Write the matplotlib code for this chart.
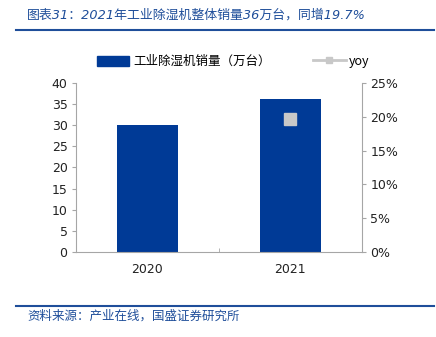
#!/usr/bin/env python3
"""
2021年工业除湿机整体销量柱状图 + 同比
"""

import matplotlib
matplotlib.use('Agg')
import matplotlib.pyplot as plt
from matplotlib.ticker import FuncFormatter
from matplotlib.lines import Line2D
from matplotlib.patches import Patch

plt.rcParams['font.family'] = ['Noto Sans CJK SC', 'DejaVu Sans']
plt.rcParams['axes.unicode_minus'] = False

# 数据
years = ['2020', '2021']
sales = [30.1, 36.1]          # 万台
yoy_years = ['2021']
yoy = [19.7]                  # %

BLUE = '#003A96'
GREY = '#A6A6A6'
TITLE_BLUE = '#1F4E9A'
NUM_FONT = ['DejaVu Sans', 'Noto Sans CJK SC']

fig = plt.figure(figsize=(4.36, 3.37), dpi=100)
ax = fig.add_axes([0.174, 0.252, 0.656, 0.502])

x = list(range(len(years)))
ax.bar(x, sales, width=0.43, color=BLUE, zorder=2)
ax.set_xlim(-0.5, len(years) - 0.5)
ax.set_ylim(0, 40)
ax.set_yticks(range(0, 41, 5))
ax.set_xticks(x)
ax.set_xticklabels(years, fontsize=9, color='#222222', family=NUM_FONT)
ax.set_xticks([0.5], minor=True)
ax.tick_params(axis='x', which='major', length=0, pad=8)
ax.tick_params(axis='x', which='minor', length=3, direction='in', color=GREY)
ax.tick_params(axis='y', labelsize=9, length=3, color=GREY, labelcolor='#222222', pad=3)
for t in ax.get_yticklabels():
    t.set_family(NUM_FONT)

ax2 = ax.twinx()
yoy_x = [years.index(y) for y in yoy_years]
ax2.plot(yoy_x, yoy, color='#C8C8C8', marker='s', markersize=8, linestyle='-',
         linewidth=2, zorder=3)
ax2.set_ylim(0, 25)
ax2.set_yticks(range(0, 26, 5))
ax2.yaxis.set_major_formatter(FuncFormatter(lambda v, p: f'{v:.0f}%'))
ax2.tick_params(axis='y', labelsize=9, length=3, color=GREY, labelcolor='#222222', pad=3)
for t in ax2.get_yticklabels():
    t.set_family(NUM_FONT)

for a in (ax, ax2):
    a.spines['top'].set_visible(False)
    for s in ('left', 'right', 'bottom'):
        a.spines[s].set_color(GREY)
        a.spines[s].set_linewidth(0.8)
ax.spines['right'].set_visible(False)
ax2.spines['left'].set_visible(False)
ax2.spines['bottom'].set_visible(False)

# 图例
handles = [Patch(facecolor=BLUE, edgecolor=BLUE),
           Line2D([0], [0], color='#C8C8C8', lw=2, marker='s', markersize=5)]
fig.legend(handles, ['工业除湿机销量（万台）', 'yoy'], loc='center',
           bbox_to_anchor=(0.535, 0.817), ncol=2, frameon=False, fontsize=9,
           handlelength=2.6, handleheight=0.9, handletextpad=0.3, columnspacing=3.4)

# 标题与来源
fig.text(0.062, 0.955, '图表31：2021年工业除湿机整体销量36万台，同增19.7%',
         fontsize=9.3, color=TITLE_BLUE, ha='left', va='center', style='italic',
         family=NUM_FONT)
fig.add_artist(Line2D([0.037, 0.995], [0.91, 0.91], color=TITLE_BLUE, lw=1.5))
fig.add_artist(Line2D([0.037, 0.995], [0.092, 0.092], color=TITLE_BLUE, lw=1.5))
fig.text(0.062, 0.062, '资料来源：产业在线，国盛证券研究所',
         fontsize=9, color=TITLE_BLUE, ha='left', va='center', style='italic')

fig.savefig('out.png', dpi=100)
plt.close(fig)
